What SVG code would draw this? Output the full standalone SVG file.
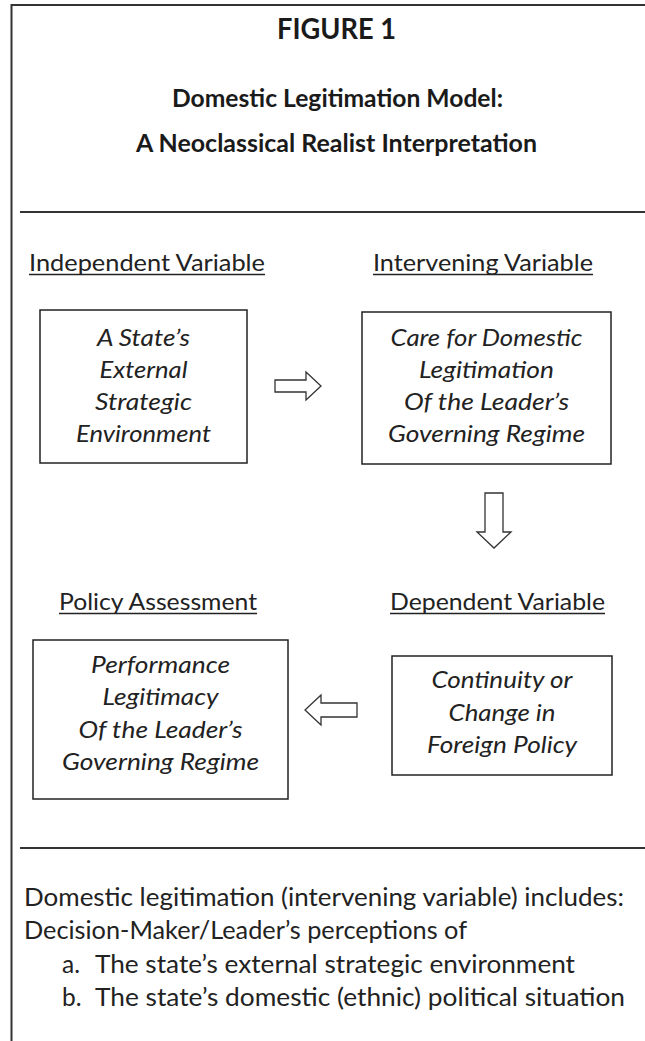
<svg xmlns="http://www.w3.org/2000/svg" width="645" height="1041" viewBox="0 0 645 1041">
  <style>
    .t { font-family: Lato, "Open Sans", "Liberation Sans", sans-serif; fill: #222; }
    .b { font-weight: bold; fill: #1a1a1a; }
    .it { font-style: italic; }
    .c { text-anchor: middle; }
    .box { fill: #fff; stroke: #222; stroke-width: 1.5; }
    .rule { stroke: #333; stroke-width: 2; fill: none; }
    .ul { stroke: #222; stroke-width: 1.4; }
    .arrow { fill: #fff; stroke: #333; stroke-width: 1.3; stroke-linejoin: miter; }
  </style>
  <rect width="645" height="1041" fill="#fff"/>

  <!-- page frame and section rules -->
  <g id="frame">
    <path class="rule" d="M11.5,1041 V5 H645"/>
    <line class="rule" x1="20" y1="212" x2="645" y2="212"/>
    <line class="rule" x1="20" y1="848" x2="645" y2="848"/>
  </g>

  <!-- heading -->
  <g id="title">
    <text class="t b c" x="336.5" y="39" font-size="28" textLength="119" lengthAdjust="spacingAndGlyphs">FIGURE 1</text>
    <text class="t b c" x="337.5" y="107" font-size="24" textLength="331" lengthAdjust="spacingAndGlyphs">Domestic Legitimation Model:</text>
    <text class="t b c" x="336.5" y="152" font-size="24" textLength="401" lengthAdjust="spacingAndGlyphs">A Neoclassical Realist Interpretation</text>
  </g>

  <!-- independent variable -->
  <g id="independent">
    <text class="t" x="29" y="271" font-size="24" textLength="236" lengthAdjust="spacingAndGlyphs">Independent Variable</text>
    <line class="ul" x1="29" y1="274.5" x2="265" y2="274.5"/>
    <rect class="box" x="40" y="310" width="207" height="153"/>
    <text class="t it c" x="143.5" y="346" font-size="24" textLength="93" lengthAdjust="spacingAndGlyphs">A State’s</text>
    <text class="t it c" x="143.5" y="378" font-size="24" textLength="88" lengthAdjust="spacingAndGlyphs">External</text>
    <text class="t it c" x="143.5" y="410" font-size="24" textLength="97" lengthAdjust="spacingAndGlyphs">Strategic</text>
    <text class="t it c" x="143.5" y="442" font-size="24" textLength="135" lengthAdjust="spacingAndGlyphs">Environment</text>
  </g>

  <!-- intervening variable -->
  <g id="intervening">
    <text class="t" x="373" y="271" font-size="24" textLength="220" lengthAdjust="spacingAndGlyphs">Intervening Variable</text>
    <line class="ul" x1="373" y1="274.5" x2="593" y2="274.5"/>
    <rect class="box" x="362" y="312" width="249" height="152"/>
    <text class="t it c" x="486.5" y="346" font-size="24" textLength="192" lengthAdjust="spacingAndGlyphs">Care for Domestic</text>
    <text class="t it c" x="486.5" y="378" font-size="24" textLength="135" lengthAdjust="spacingAndGlyphs">Legitimation</text>
    <text class="t it c" x="486.5" y="410" font-size="24" textLength="165" lengthAdjust="spacingAndGlyphs">Of the Leader’s</text>
    <text class="t it c" x="486.5" y="442" font-size="24" textLength="197" lengthAdjust="spacingAndGlyphs">Governing Regime</text>
  </g>

  <!-- policy assessment -->
  <g id="assessment">
    <text class="t" x="59" y="610" font-size="24" textLength="198" lengthAdjust="spacingAndGlyphs">Policy Assessment</text>
    <line class="ul" x1="59" y1="613.5" x2="257" y2="613.5"/>
    <rect class="box" x="33" y="640" width="255" height="159"/>
    <text class="t it c" x="160.5" y="673" font-size="24" textLength="139" lengthAdjust="spacingAndGlyphs">Performance</text>
    <text class="t it c" x="160.5" y="705" font-size="24" textLength="116" lengthAdjust="spacingAndGlyphs">Legitimacy</text>
    <text class="t it c" x="160.5" y="738" font-size="24" textLength="164" lengthAdjust="spacingAndGlyphs">Of the Leader’s</text>
    <text class="t it c" x="160.5" y="770" font-size="24" textLength="197" lengthAdjust="spacingAndGlyphs">Governing Regime</text>
  </g>

  <!-- dependent variable -->
  <g id="dependent">
    <text class="t" x="390" y="610" font-size="24" textLength="215" lengthAdjust="spacingAndGlyphs">Dependent Variable</text>
    <line class="ul" x1="390" y1="613.5" x2="605" y2="613.5"/>
    <rect class="box" x="392" y="656" width="220" height="119"/>
    <text class="t it c" x="502" y="688" font-size="24" textLength="141" lengthAdjust="spacingAndGlyphs">Continuity or</text>
    <text class="t it c" x="502" y="721" font-size="24" textLength="107" lengthAdjust="spacingAndGlyphs">Change in</text>
    <text class="t it c" x="502" y="753" font-size="24" textLength="150" lengthAdjust="spacingAndGlyphs">Foreign Policy</text>
  </g>

  <!-- block arrows between the stages -->
  <g id="connectors">
    <polygon class="arrow" points="275,380 306,380 306,372 321,386 306,400 306,392 275,392"/>
    <polygon class="arrow" points="485,493 503,493 503,532 511,532 494,548 477,532 485,532"/>
    <polygon class="arrow" points="357,703 321,703 321,695 305,710 321,725 321,717 357,717"/>
  </g>

  <!-- note -->
  <g id="note">
    <text class="t" x="24" y="906" font-size="24.5" textLength="600" lengthAdjust="spacingAndGlyphs">Domestic legitimation (intervening variable) includes:</text>
    <text class="t" x="24" y="939" font-size="24.5" textLength="443" lengthAdjust="spacingAndGlyphs">Decision-Maker/Leader’s perceptions of</text>
    <text class="t" x="62" y="973" font-size="24.5">a.</text>
    <text class="t" x="95" y="973" font-size="24.5" textLength="480" lengthAdjust="spacingAndGlyphs">The state’s external strategic environment</text>
    <text class="t" x="62" y="1006" font-size="24.5">b.</text>
    <text class="t" x="95" y="1006" font-size="24.5" textLength="530" lengthAdjust="spacingAndGlyphs">The state’s domestic (ethnic) political situation</text>
  </g>
</svg>
